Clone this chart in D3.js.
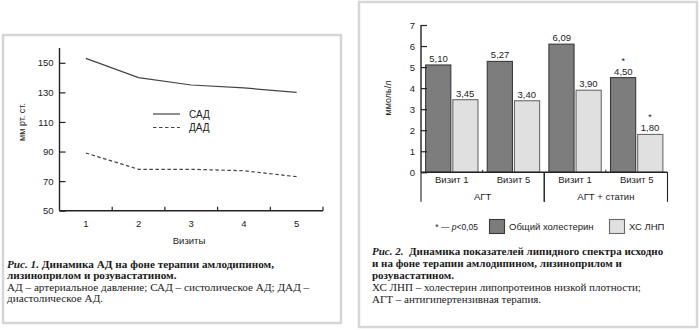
<!DOCTYPE html>
<html><head><meta charset="utf-8">
<script src="https://cdn.jsdelivr.net/npm/d3@7"></script>
<style>
html,body{margin:0;padding:0;background:#fff;}
svg{display:block;}
.sans{font-family:"Liberation Sans",Arial,sans-serif;}
.serif{font-family:"Liberation Serif","Times New Roman",serif;}
</style></head>
<body>
<svg id="c" width="700" height="330"></svg>
<script>
// ---- Figure 1 data
const visits = [1, 2, 3, 4, 5];
const sad = [153, 140, 135, 133, 130];
const dad = [89, 78, 78, 77, 73];
const bpTicks = [50, 70, 90, 110, 130, 150];
const bpSeries = ["САД", "ДАД"];

// ---- Figure 2 data
const visitLabels = ["Визит 1", "Визит 5", "Визит 1", "Визит 5"];
const therapyOf = ["АГТ", "АГТ", "АГТ + статин", "АГТ + статин"];
const therapies = ["АГТ", "АГТ + статин"];
const totalChol = [5.10, 5.27, 6.09, 4.50];
const ldlChol = [3.45, 3.40, 3.90, 1.80];
const totalSig = [false, false, false, true];
const ldlSig = [false, false, false, true];
const lipidTicks = [0, 1, 2, 3, 4, 5, 6, 7];
const lipidSeries = ["Общий холестерин", "ХС ЛНП"];

const svg = d3.select("#c");
const ink = "#222";

// Frames
svg.append("rect").attr("x", 3).attr("y", 35).attr("width", 338).attr("height", 288)
  .attr("fill", "none").attr("stroke", "#d6d6d6").attr("stroke-width", 2.5);
svg.append("rect").attr("x", 359).attr("y", 2).attr("width", 338).attr("height", 325)
  .attr("fill", "none").attr("stroke", "#d6d6d6").attr("stroke-width", 2.5);

// ================= Figure 1 =================
{
  const g = svg.append("g").attr("class", "sans");
  const x = d3.scaleBand().domain(visits).range([59.5, 323]);
  const y = d3.scaleLinear().domain([50, 160]).range([210.7, 48]);

  // y axis
  const ya = d3.axisLeft(y).tickValues(bpTicks).tickFormat(d3.format("d")).tickSize(-6).tickPadding(12);
  const yg = g.append("g").attr("transform", "translate(59.5,0)").call(ya);
  yg.select(".domain").attr("d", `M0,${y(160)}V${y(50)}`).attr("stroke", ink).attr("stroke-width", 1.4);
  yg.selectAll(".tick line").attr("stroke", ink).attr("stroke-width", 1.2);
  yg.selectAll(".tick text").attr("fill", ink).attr("font-size", 9.5).attr("x", -6)
    .attr("font-family", "Liberation Sans, Arial, sans-serif");

  // x axis
  const xa = d3.axisBottom(x).tickSize(0).tickPadding(10);
  const xg = g.append("g").attr("transform", `translate(0,${y(50)})`).call(xa);
  xg.select(".domain").attr("d", `M59.5,0H323`).attr("stroke", ink).attr("stroke-width", 1.4);
  xg.selectAll(".tick text").attr("fill", ink).attr("font-size", 9.5)
    .attr("font-family", "Liberation Sans, Arial, sans-serif");
  // inward ticks at band edges
  xg.selectAll(".edge").data(visits).enter().append("line")
    .attr("x1", d => x(d) + x.bandwidth()).attr("x2", d => x(d) + x.bandwidth())
    .attr("y1", 0).attr("y2", -4).attr("stroke", ink).attr("stroke-width", 1.2);

  const line = d3.line().x((d, i) => x(visits[i]) + x.bandwidth() / 2).y(d => y(d));
  g.append("path").datum(sad).attr("d", line).attr("fill", "none")
    .attr("stroke", "#444").attr("stroke-width", 1.2);
  g.append("path").datum(dad).attr("d", line).attr("fill", "none")
    .attr("stroke", "#444").attr("stroke-width", 1.2).attr("stroke-dasharray", "3.5,2.5");

  // legend
  const lg = g.append("g");
  bpSeries.forEach((s, i) => {
    const yy = 114 + i * 13.5;
    lg.append("line").attr("x1", 153).attr("x2", 180).attr("y1", yy).attr("y2", yy)
      .attr("stroke", "#444").attr("stroke-width", 1.2)
      .attr("stroke-dasharray", i === 1 ? "3.5,2.5" : null);
    lg.append("text").attr("x", 189).attr("y", yy + 3.5).attr("font-size", 10)
      .attr("fill", ink).text(s);
  });

  // axis titles
  g.append("text").attr("transform", "translate(25,122) rotate(-90)")
    .attr("text-anchor", "middle").attr("font-size", 9).attr("fill", ink).text("мм рт. ст.");
  g.append("text").attr("x", 189).attr("y", 243.5).attr("text-anchor", "middle")
    .attr("font-size", 9.5).attr("fill", ink).text("Визиты");

  // caption
  const c = svg.append("g").attr("class", "serif").attr("fill", "#1a1a1a").attr("font-size", 11.2);
  const t1 = c.append("text").attr("x", 7).attr("y", 268).attr("font-weight", "bold");
  t1.append("tspan").attr("font-style", "italic").text("Рис. 1. ");
  t1.append("tspan").text("Динамика АД на фоне терапии амлодипином,");
  c.append("text").attr("x", 7).attr("y", 279).attr("font-weight", "bold").text("лизиноприлом и розувастатином.");
  c.append("text").attr("x", 7).attr("y", 291).text("АД – артериальное давление; САД – систолическое АД; ДАД –");
  c.append("text").attr("x", 7).attr("y", 302).text("диастолическое АД.");
}

// ================= Figure 2 =================
{
  const g = svg.append("g").attr("class", "sans");
  const idx = d3.range(visitLabels.length);
  const x0 = d3.scaleBand().domain(idx).range([421, 667.5]);
  const x1 = d3.scaleBand().domain([0, 1]).range([0, x0.bandwidth()]).paddingOuter(0.155);
  const y = d3.scaleLinear().domain([0, 7]).range([172.3, 25]);
  const fmt = v => d3.format(".2f")(v).replace(".", ",");

  // bars
  const series = [
    {vals: totalChol, sig: totalSig, fill: "#7d7d7d", stroke: "#3a3a3a"},
    {vals: ldlChol, sig: ldlSig, fill: "#e0e0e0", stroke: "#6a6a6a"}
  ];
  series.forEach((s, si) => {
    g.selectAll(".bar" + si).data(idx).enter().append("rect")
      .attr("x", i => x0(i) + x1(si) + 0.5 + (si === 1 ? 0.5 : 0))
      .attr("width", x1.bandwidth() - 1.5)
      .attr("y", i => y(s.vals[i]))
      .attr("height", i => y(0) - y(s.vals[i]))
      .attr("fill", s.fill).attr("stroke", s.stroke).attr("stroke-width", 1.1);
    g.selectAll(".lab" + si).data(idx).enter().append("text")
      .attr("x", i => x0(i) + x1(si) + x1.bandwidth() / 2)
      .attr("y", i => y(s.vals[i]) - 3)
      .attr("text-anchor", "middle").attr("font-size", 9.5).attr("fill", ink)
      .text(i => fmt(s.vals[i]));
    g.selectAll(".sig" + si).data(idx.filter(i => s.sig[i])).enter().append("text")
      .attr("x", i => x0(i) + x1(si) + x1.bandwidth() / 2)
      .attr("y", i => y(s.vals[i]) - 14)
      .attr("text-anchor", "middle").attr("font-size", 9).attr("fill", ink).text("*");
  });

  // y axis
  const ya = d3.axisLeft(y).tickValues(lipidTicks).tickFormat(d3.format("d")).tickSize(-6).tickPadding(13);
  const yg = g.append("g").attr("transform", "translate(421,0)").call(ya);
  yg.select(".domain").attr("d", `M0,${y(7)}V${y(0)}`).attr("stroke", ink).attr("stroke-width", 1.4);
  yg.selectAll(".tick line").attr("stroke", ink).attr("stroke-width", 1.2);
  yg.selectAll(".tick text").attr("fill", ink).attr("font-size", 9.5).attr("x", -6)
    .attr("font-family", "Liberation Sans, Arial, sans-serif");

  // x axis
  const xg = g.append("g").attr("transform", `translate(0,${y(0)})`);
  xg.append("path").attr("d", "M421,0H667.5").attr("stroke", ink).attr("stroke-width", 1.4);
  xg.selectAll(".vl").data(idx).enter().append("text")
    .attr("x", i => x0(i) + x0.bandwidth() / 2).attr("y", 11)
    .attr("text-anchor", "middle").attr("font-size", 9.5).attr("fill", ink).text(i => visitLabels[i]);
  // small ticks between visits within a therapy
  idx.forEach(i => {
    if (i < idx.length - 1 && therapyOf[i] === therapyOf[i + 1]) {
      const xx = x0(i) + x0.bandwidth();
      xg.append("line").attr("x1", xx).attr("x2", xx).attr("y1", 0).attr("y2", -2.5)
        .attr("stroke", ink).attr("stroke-width", 1);
    }
  });
  // therapy group separators & labels
  therapies.forEach((t, ti) => {
    const members = idx.filter(i => therapyOf[i] === t);
    const xs = x0(members[0]);
    const xe = x0(members[members.length - 1]) + x0.bandwidth();
    [xs, xe].forEach(xx => {
      xg.append("line").attr("x1", xx).attr("x2", xx).attr("y1", 0).attr("y2", 29.5)
        .attr("stroke", ink).attr("stroke-width", 1.1);
    });
    xg.append("text").attr("x", (xs + xe) / 2).attr("y", 28).attr("text-anchor", "middle")
      .attr("font-size", 9.5).attr("fill", ink).text(t);
  });

  // y title
  g.append("text").attr("transform", "translate(391,98) rotate(-90)")
    .attr("text-anchor", "middle").attr("font-size", 9).attr("fill", ink).text("ммоль/л");

  // legend
  const lg = g.append("g").attr("font-size", 9.5).attr("fill", ink);
  const st = lg.append("text").attr("x", 478).attr("y", 230).attr("text-anchor", "end")
    .attr("font-size", 8.5);
  st.append("tspan").text("* — ");
  st.append("tspan").attr("font-style", "italic").text("p");
  st.append("tspan").text("<0,05");
  const legX = [489, 609];
  lipidSeries.forEach((s, i) => {
    lg.append("rect").attr("x", legX[i] + 0.5).attr("y", 219.5).attr("width", 15).attr("height", 14)
      .attr("fill", series[i].fill).attr("stroke", series[i].stroke).attr("stroke-width", 1.1);
    lg.append("text").attr("x", legX[i] + 20).attr("y", 230).text(s);
  });

  // caption
  const c = svg.append("g").attr("class", "serif").attr("fill", "#1a1a1a").attr("font-size", 11);
  const t1 = c.append("text").attr("x", 372).attr("y", 254.5).attr("font-weight", "bold");
  t1.append("tspan").attr("font-style", "italic").text("Рис. 2.");
  t1.append("tspan").text("  Динамика показателей липидного спектра исходно").attr("xml:space", "preserve");
  c.append("text").attr("x", 372).attr("y", 267).attr("font-weight", "bold").text("и на фоне терапии амлодипином, лизиноприлом и");
  c.append("text").attr("x", 372).attr("y", 279).attr("font-weight", "bold").text("розувастатином.");
  c.append("text").attr("x", 372).attr("y", 290.5).text("ХС ЛНП – холестерин липопротеинов низкой плотности;");
  c.append("text").attr("x", 372).attr("y", 302.5).text("АГТ – антигипертензивная терапия.");
}
</script>
</body></html>
